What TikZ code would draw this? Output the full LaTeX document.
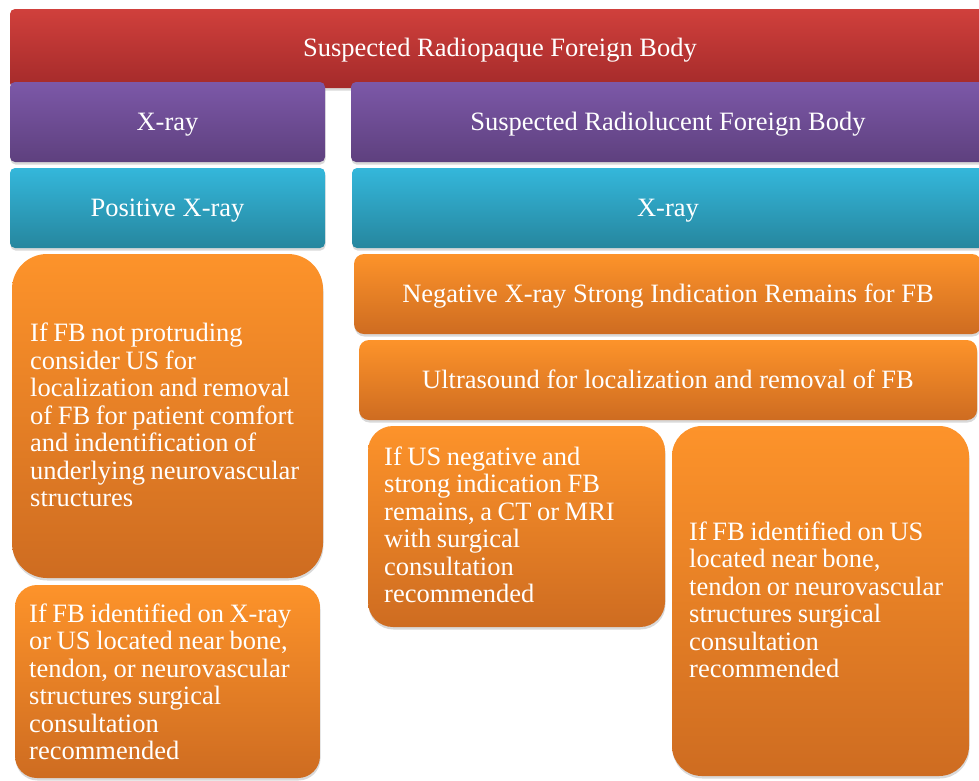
\documentclass[tikz,border=0pt]{standalone}
\usepackage{fontspec}
\setmainfont{Liberation Serif}
\usetikzlibrary{shadows}
\definecolor{redT}{RGB}{208,64,60}
\definecolor{redB}{RGB}{164,42,42}
\definecolor{purT}{RGB}{124,88,168}
\definecolor{purB}{RGB}{94,64,126}
\definecolor{cyaT}{RGB}{52,183,219}
\definecolor{cyaB}{RGB}{38,134,158}
\definecolor{oraT}{RGB}{253,147,42}
\definecolor{oraB}{RGB}{206,108,33}
\newcommand\mytightspace{\spaceskip 0.21em plus 0.05em\relax}
\begin{document}
\begin{tikzpicture}[x=1pt,y=-1pt,
  box/.style={draw=none, inner sep=0pt,
    drop shadow={shadow xshift=0.5pt, shadow yshift=-2.5pt, opacity=0.3}},
  redbox/.style={box, top color=redT, bottom color=redB, rounded corners=5pt},
  purbox/.style={box, top color=purT, bottom color=purB, rounded corners=5pt},
  cyabox/.style={box, top color=cyaT, bottom color=cyaB, rounded corners=5pt},
  orabox/.style={box, top color=oraT, bottom color=oraB},
  ctxt/.style={text=white, inner sep=0pt, anchor=base,
    font=\fontsize{26.5}{27.5}\selectfont},
  ltxt/.style={text=white, inner sep=0pt, anchor=base west, align=left,
    text width=300pt, font=\fontsize{26.5}{27.5}\selectfont,
    execute at begin node=\mytightspace}
]
\clip (0,0) rectangle (979,780);
% top bar
\node[redbox, minimum width=980pt, minimum height=79pt] (top) at (500,48.5) {};
\node[ctxt] (topt) at (500,56.7) {Suspected Radiopaque Foreign Body};
% purple row
\node[purbox, minimum width=315pt, minimum height=80pt] (xl) at (167.5,122) {};
\node[ctxt] (xlt) at (167.5,130.7) {X-ray};
\node[purbox, minimum width=634pt, minimum height=80pt] (rl) at (668,122) {};
\node[ctxt] (rlt) at (668,130.7) {Suspected Radiolucent Foreign Body};
% cyan row
\node[cyabox, minimum width=315pt, minimum height=80pt] (pos) at (167.5,208) {};
\node[ctxt] (post) at (167.5,216.5) {Positive X-ray};
\node[cyabox, minimum width=632pt, minimum height=80pt] (xr) at (668,208) {};
\node[ctxt] (xrt) at (668,216.5) {X-ray};
% left orange boxes
\node[orabox, rounded corners=35pt, minimum width=311pt, minimum height=324pt] (nonpro) at (167.5,416) {};
\node[ltxt] (nonprot) at (30,341.7)
  {If FB not protruding\\consider US for\\localization and removal\\of FB for patient comfort\\and indentification of\\underlying neurovascular\\structures};
\node[orabox, rounded corners=22pt, minimum width=305pt, minimum height=193pt] (idxr) at (167.5,681.5) {};
\node[ltxt] (idxrt) at (29,622.3)
  {If FB identified on X-ray\\or US located near bone,\\tendon, or neurovascular\\structures surgical\\consultation\\recommended};
% right orange boxes
\node[orabox, rounded corners=10pt, minimum width=628pt, minimum height=80pt] (neg) at (668,294) {};
\node[ctxt] (negt) at (668,302.7) {Negative X-ray Strong Indication Remains for FB};
\node[orabox, rounded corners=10pt, minimum width=618pt, minimum height=80pt] (us) at (668,380) {};
\node[ctxt] (ust) at (668,388.5) {Ultrasound for localization and removal of FB};
\node[orabox, rounded corners=25pt, minimum width=297pt, minimum height=201pt] (usneg) at (516.5,526.5) {};
\node[ltxt] (usnegt) at (384,465)
  {If US negative and\\strong indication FB\\remains, a CT or MRI\\with surgical\\consultation\\recommended};
\node[orabox, rounded corners=30pt, minimum width=297pt, minimum height=350pt] (idus) at (820.5,601) {};
\node[ltxt] (idust) at (689,540)
  {If FB identified on US\\located near bone,\\tendon or neurovascular\\structures surgical\\consultation\\recommended};
\end{tikzpicture}
\end{document}
